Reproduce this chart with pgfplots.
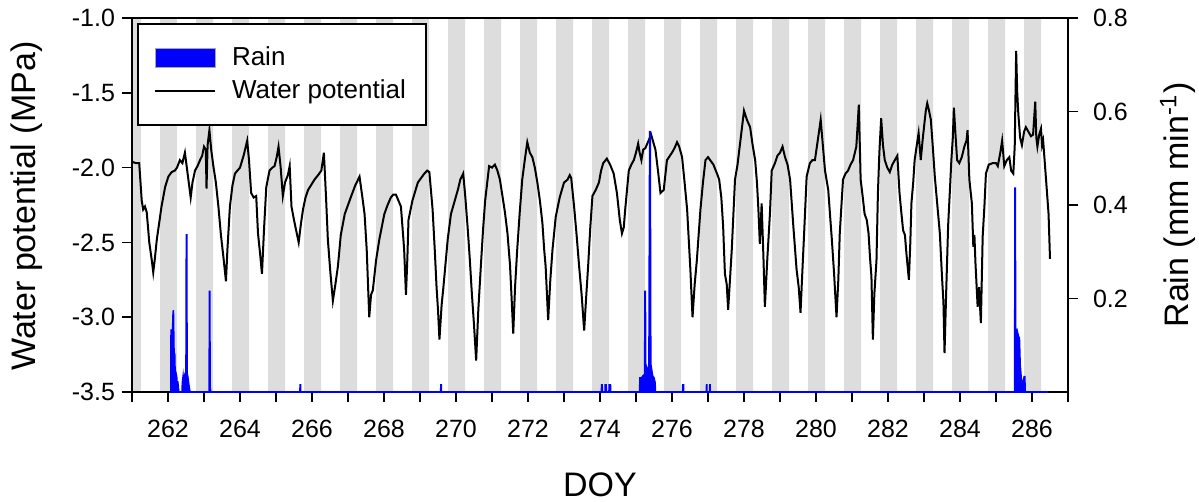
\documentclass[border=0pt]{standalone}
\usepackage{fontspec}
\setmainfont{Liberation Sans}
\usepackage{pgfplots}
\pgfplotsset{compat=1.18}
\definecolor{band}{RGB}{221,221,221}
\definecolor{rainblue}{RGB}{0,0,255}
\begin{document}
\begin{tikzpicture}
\pgfplotsset{
  base/.style={width=468pt,height=187pt,scale only axis,xmin=261,xmax=287,at={(0,0)},anchor=south west},
}
% night bands
\begin{axis}[base, ymin=0, ymax=1, hide axis]
\addplot[ybar interval, fill=band, draw=none] coordinates {
(260.78,1)(261.25,0)(261.78,1)(262.25,0)(262.78,1)(263.25,0)(263.78,1)(264.25,0)
(264.78,1)(265.25,0)(265.78,1)(266.25,0)(266.78,1)(267.25,0)(267.78,1)(268.25,0)
(268.78,1)(269.25,0)(269.78,1)(270.25,0)(270.78,1)(271.25,0)(271.78,1)(272.25,0)
(272.78,1)(273.25,0)(273.78,1)(274.25,0)(274.78,1)(275.25,0)(275.78,1)(276.25,0)
(276.78,1)(277.25,0)(277.78,1)(278.25,0)(278.78,1)(279.25,0)(279.78,1)(280.25,0)
(280.78,1)(281.25,0)(281.78,1)(282.25,0)(282.78,1)(283.25,0)(283.78,1)(284.25,0)
(284.78,1)(285.25,0)(285.78,1)(286.25,0)};
\end{axis}
% water potential
\begin{axis}[base, ymin=-3.5, ymax=-1.0,
  xtick={262,264,...,286},
  xticklabels={262,264,266,268,270,272,274,276,278,280,282,284,286},
  minor xtick={261,263,...,287},
  xtick pos=lower, ytick pos=left,
  ytick={-3.5,-3,-2.5,-2,-1.5,-1},
  yticklabels={-3.5,-3.0,-2.5,-2.0,-1.5,-1.0},
  tick align=outside, major tick length=5pt, minor tick length=5pt,
  every tick/.style={black, line width=0.8pt},
  axis line style={line width=1pt},
  ticklabel style={font=\fontsize{12.5}{14}\selectfont},
  xticklabel style={yshift=-5.5pt},
  xlabel={DOY}, ylabel={Water potential (MPa)},
  label style={font=\fontsize{17}{20}\selectfont},
  xlabel style={at={(axis description cs:0.5,-0.249)},anchor=center},
  ylabel style={at={(axis description cs:-0.112,0.497)},anchor=center},
]
\addplot[black, line width=1pt] coordinates {
(261.00,-1.96)(261.10,-1.97)(261.20,-1.97)(261.27,-2.22)(261.31,-2.28)(261.36,-2.26)(261.41,-2.30)
(261.48,-2.50)(261.55,-2.62)(261.59,-2.70)(261.63,-2.62)(261.69,-2.48)(261.82,-2.26)(261.92,-2.13)
(262.01,-2.06)(262.10,-2.03)(262.19,-2.02)(262.25,-2.00)(262.33,-1.95)(262.40,-1.97)(262.47,-1.90)
(262.55,-2.05)(262.63,-2.20)(262.68,-2.10)(262.75,-2.02)(262.82,-1.99)(262.89,-1.95)(262.95,-1.92)
(263.00,-1.86)(263.05,-1.88)(263.07,-2.14)(263.10,-1.85)(263.15,-1.75)(263.20,-1.88)(263.26,-1.99)
(263.33,-2.10)(263.40,-2.26)(263.47,-2.45)(263.54,-2.60)(263.61,-2.76)(263.65,-2.55)(263.72,-2.26)
(263.79,-2.12)(263.86,-2.04)(264.00,-2.00)(264.10,-1.92)(264.20,-1.82)(264.25,-1.95)(264.31,-2.17)
(264.38,-2.20)(264.45,-2.19)(264.50,-2.44)(264.56,-2.58)(264.61,-2.71)(264.67,-2.40)(264.73,-2.13)
(264.82,-2.02)(264.90,-2.00)(264.96,-1.99)(265.02,-1.93)(265.07,-1.86)(265.13,-2.00)(265.19,-2.19)
(265.25,-2.10)(265.33,-2.05)(265.38,-1.99)(265.43,-2.26)(265.50,-2.35)(265.56,-2.42)(265.63,-2.50)
(265.69,-2.38)(265.75,-2.28)(265.82,-2.20)(265.89,-2.15)(266.07,-2.08)(266.17,-2.05)(266.26,-2.02)
(266.33,-1.90)(266.39,-2.20)(266.44,-2.48)(266.51,-2.70)(266.58,-2.89)(266.65,-2.78)(266.72,-2.66)
(266.80,-2.45)(266.91,-2.31)(267.00,-2.25)(267.09,-2.19)(267.20,-2.12)(267.32,-2.06)(267.40,-2.20)
(267.46,-2.31)(267.52,-2.55)(267.59,-3.00)(267.64,-2.85)(267.69,-2.82)(267.78,-2.62)(267.87,-2.48)
(268.01,-2.31)(268.10,-2.25)(268.19,-2.20)(268.26,-2.18)(268.33,-2.18)(268.40,-2.22)(268.47,-2.26)
(268.53,-2.45)(268.56,-2.55)(268.61,-2.85)(268.65,-2.60)(268.68,-2.35)(268.79,-2.22)(268.94,-2.10)
(269.03,-2.07)(269.12,-2.04)(269.20,-2.02)(269.26,-2.03)(269.35,-2.28)(269.41,-2.55)(269.46,-2.80)
(269.50,-2.95)(269.54,-3.15)(269.60,-2.92)(269.65,-2.80)(269.77,-2.48)(269.86,-2.31)(270.05,-2.15)
(270.12,-2.08)(270.20,-2.04)(270.26,-2.20)(270.32,-2.39)(270.38,-2.60)(270.44,-2.84)(270.50,-3.05)
(270.56,-3.29)(270.62,-2.95)(270.69,-2.66)(270.75,-2.42)(270.81,-2.22)(270.92,-1.99)(271.00,-2.00)
(271.08,-1.98)(271.15,-2.02)(271.22,-2.08)(271.29,-2.19)(271.36,-2.30)(271.43,-2.44)(271.50,-2.65)
(271.55,-2.90)(271.59,-3.11)(271.64,-2.80)(271.70,-2.55)(271.77,-2.30)(271.84,-2.08)(271.91,-1.95)
(271.98,-1.83)(272.05,-1.90)(272.12,-1.93)(272.19,-2.00)(272.26,-2.10)(272.33,-2.22)(272.40,-2.37)
(272.45,-2.55)(272.49,-2.66)(272.56,-3.02)(272.62,-2.75)(272.68,-2.55)(272.77,-2.33)(272.88,-2.20)
(273.00,-2.10)(273.10,-2.08)(273.16,-2.05)(273.20,-2.07)(273.28,-2.26)(273.35,-2.45)(273.42,-2.66)
(273.49,-2.85)(273.56,-3.09)(273.62,-2.85)(273.67,-2.66)(273.73,-2.40)(273.79,-2.19)(273.88,-2.15)
(273.97,-2.10)(274.03,-2.02)(274.09,-1.97)(274.19,-1.94)(274.28,-1.98)(274.38,-2.04)(274.47,-2.17)
(274.55,-2.35)(274.61,-2.44)(274.66,-2.40)(274.70,-2.28)(274.80,-2.02)(274.87,-1.98)(274.94,-1.95)
(275.00,-1.90)(275.06,-1.84)(275.10,-1.90)(275.15,-1.95)(275.20,-1.88)(275.26,-1.87)(275.33,-1.83)
(275.42,-1.78)(275.48,-1.83)(275.54,-1.88)(275.61,-2.02)(275.68,-2.17)(275.72,-2.16)(275.77,-2.15)
(275.86,-1.95)(276.00,-1.90)(276.07,-1.87)(276.14,-1.83)(276.20,-1.86)(276.28,-1.93)(276.35,-2.10)
(276.42,-2.28)(276.51,-2.68)(276.57,-3.00)(276.63,-2.78)(276.69,-2.62)(276.79,-2.28)(276.86,-2.10)
(276.93,-1.95)(277.00,-1.93)(277.06,-1.95)(277.15,-1.98)(277.25,-2.04)(277.31,-2.08)(277.37,-2.20)
(277.42,-2.39)(277.47,-2.71)(277.52,-2.78)(277.56,-2.95)(277.61,-2.75)(277.66,-2.55)(277.75,-2.08)
(277.82,-1.98)(277.89,-1.84)(277.95,-1.72)(278.00,-1.62)(278.08,-1.68)(278.17,-1.73)(278.24,-1.85)
(278.31,-1.95)(278.36,-2.10)(278.40,-2.28)(278.44,-2.51)(278.47,-2.35)(278.49,-2.24)(278.54,-2.60)
(278.58,-2.93)(278.65,-2.60)(278.72,-2.31)(278.77,-2.02)(278.86,-1.97)(278.93,-1.92)(279.00,-1.90)
(279.07,-1.86)(279.14,-1.93)(279.21,-1.98)(279.28,-2.08)(279.37,-2.39)(279.42,-2.55)(279.46,-2.68)
(279.52,-2.80)(279.57,-2.97)(279.62,-2.70)(279.67,-2.44)(279.74,-2.06)(279.83,-1.97)(279.90,-1.95)
(279.97,-1.95)(280.06,-1.80)(280.13,-1.68)(280.19,-1.85)(280.25,-2.02)(280.34,-2.15)(280.40,-2.35)
(280.44,-2.48)(280.50,-2.70)(280.57,-3.00)(280.62,-2.75)(280.66,-2.44)(280.75,-2.08)(280.82,-2.04)
(280.89,-2.02)(280.96,-1.98)(281.03,-1.95)(281.12,-1.86)(281.19,-1.58)(281.24,-2.08)(281.30,-2.20)
(281.35,-2.31)(281.41,-2.35)(281.46,-2.44)(281.50,-2.60)(281.54,-2.73)(281.58,-3.15)(281.62,-2.85)
(281.68,-2.62)(281.72,-2.17)(281.76,-1.90)(281.81,-1.67)(281.86,-1.85)(281.91,-1.95)(281.98,-2.00)
(282.05,-2.03)(282.12,-1.98)(282.19,-1.95)(282.26,-1.92)(282.32,-2.17)(282.37,-2.30)(282.42,-2.42)
(282.47,-2.45)(282.51,-2.57)(282.58,-2.75)(282.62,-2.50)(282.65,-2.24)(282.70,-2.10)(282.74,-1.95)
(282.80,-1.85)(282.85,-1.77)(282.91,-1.95)(282.96,-1.82)(283.00,-1.73)(283.05,-1.62)(283.09,-1.57)
(283.14,-1.62)(283.19,-1.68)(283.25,-1.88)(283.30,-2.06)(283.37,-2.25)(283.44,-2.44)(283.50,-2.73)
(283.54,-2.90)(283.57,-3.24)(283.62,-2.80)(283.67,-2.39)(283.72,-2.15)(283.76,-1.95)(283.80,-1.80)
(283.83,-1.60)(283.88,-1.80)(283.92,-1.95)(283.98,-1.97)(284.05,-1.93)(284.12,-1.86)(284.18,-1.82)
(284.21,-1.75)(284.26,-2.08)(284.33,-2.24)(284.37,-2.53)(284.40,-2.45)(284.43,-2.64)(284.49,-2.93)
(284.53,-2.80)(284.58,-3.04)(284.63,-2.46)(284.68,-2.25)(284.72,-2.04)(284.80,-1.98)(284.91,-1.97)
(285.00,-1.97)(285.05,-1.99)(285.12,-1.90)(285.17,-1.82)(285.23,-1.99)(285.30,-1.95)(285.37,-1.93)
(285.42,-2.02)(285.48,-2.04)(285.52,-1.86)(285.56,-1.22)(285.59,-1.50)(285.62,-1.64)(285.67,-1.80)
(285.72,-1.85)(285.78,-1.76)(285.83,-1.73)(285.90,-1.76)(285.97,-1.79)(286.03,-1.78)(286.09,-1.56)
(286.12,-1.80)(286.15,-1.86)(286.20,-1.78)(286.25,-1.74)(286.28,-1.85)(286.31,-1.82)(286.39,-2.08)
(286.46,-2.31)(286.50,-2.61)};
\end{axis}
% rain
\begin{axis}[base, ymin=0, ymax=0.8, clip=false,
  axis x line=none, axis y line*=right,
  ytick={0.2,0.4,0.6,0.8}, yticklabels={0.2,0.4,0.6,0.8},
  tick align=outside, major tick length=5pt,
  every tick/.style={black, line width=0.8pt},
  axis line style={line width=1pt},
  ticklabel style={font=\fontsize{12.5}{14}\selectfont},
  yticklabel style={xshift=4pt},
  ylabel={Rain (mm min\textsuperscript{-1})},
  label style={font=\fontsize{17}{20}\selectfont},
  ylabel style={at={(axis description cs:1.1175,0.5)},anchor=center},
  legend style={at={(axis description cs:0,1)}, anchor=north west, xshift=2.5pt, yshift=-2.5pt,
    draw=black, line width=1pt, fill=white, inner xsep=8pt, inner ysep=9.5pt,
    row sep=1.5pt, column sep=6pt, font=\fontsize{13}{15}\selectfont},
  legend cell align=left,
]
\addplot[rainblue, fill=rainblue, line width=0.8pt, forget plot] coordinates {
(262.05,0)(262.08,0)(262.085,0.13)(262.095,0.134)(262.10,0.08)(262.11,0.12)(262.12,0.05)(262.135,0.16)
(262.15,0.175)(262.16,0.12)(262.17,0.07)(262.185,0.083)(262.20,0.03)(262.22,0.04)(262.24,0.033)
(262.26,0.01)(262.28,0.015)(262.30,0)
(262.39,0)(262.40,0.02)(262.42,0.033)(262.44,0.015)(262.46,0.03)(262.48,0.02)(262.50,0.04)
(262.51,0.336)(262.52,0.336)(262.53,0.04)(262.55,0.033)(262.57,0.02)(262.59,0.01)(262.61,0)
(263.145,0)(263.15,0.215)(263.16,0.215)(263.17,0.01)(263.19,0)
(265.665,0)(265.67,0.015)(265.68,0.015)(265.685,0)
(269.575,0)(269.58,0.015)(269.59,0.015)(269.595,0)
(274.04,0)(274.045,0.015)(274.06,0.015)(274.065,0)
(274.14,0)(274.145,0.015)(274.17,0.015)(274.175,0)
(274.25,0)(274.255,0.015)(274.29,0.015)(274.295,0)
(275.10,0)(275.11,0.03)(275.15,0.03)(275.20,0.035)(275.24,0.03)(275.25,0.215)(275.26,0.215)
(275.27,0.03)(275.30,0.05)(275.33,0.04)(275.36,0.06)(275.38,0.557)(275.395,0.557)(275.41,0.06)
(275.43,0.05)(275.46,0.035)(275.50,0.03)(275.53,0.02)(275.54,0)
(276.295,0)(276.30,0.015)(276.32,0.015)(276.325,0)
(276.955,0)(276.96,0.015)(276.965,0.015)(276.97,0)
(277.045,0)(277.05,0.015)(277.055,0.015)(277.06,0)
(285.52,0)(285.525,0.436)(285.535,0.436)(285.545,0.13)(285.58,0.133)(285.62,0.12)(285.65,0.115)
(285.67,0.06)(285.70,0.03)(285.74,0.02)(285.76,0)(285.78,0.033)(285.80,0.033)(285.81,0)
(286.45,0)} \closedcycle;
\addlegendimage{legend image code/.code={\draw[fill=rainblue, draw=gray!70, line width=0.5pt] (0pt,-4.75pt) rectangle (30pt,4.75pt);}}
\addlegendentry{Rain}
\addlegendimage{legend image code/.code={\draw[black, line width=1pt] (0pt,0pt) -- (30pt,0pt);}}
\addlegendentry{Water potential}
\end{axis}
\pgfresetboundingbox
\path (-66pt,-55pt) rectangle (533.5pt,196pt);
\end{tikzpicture}
\end{document}
